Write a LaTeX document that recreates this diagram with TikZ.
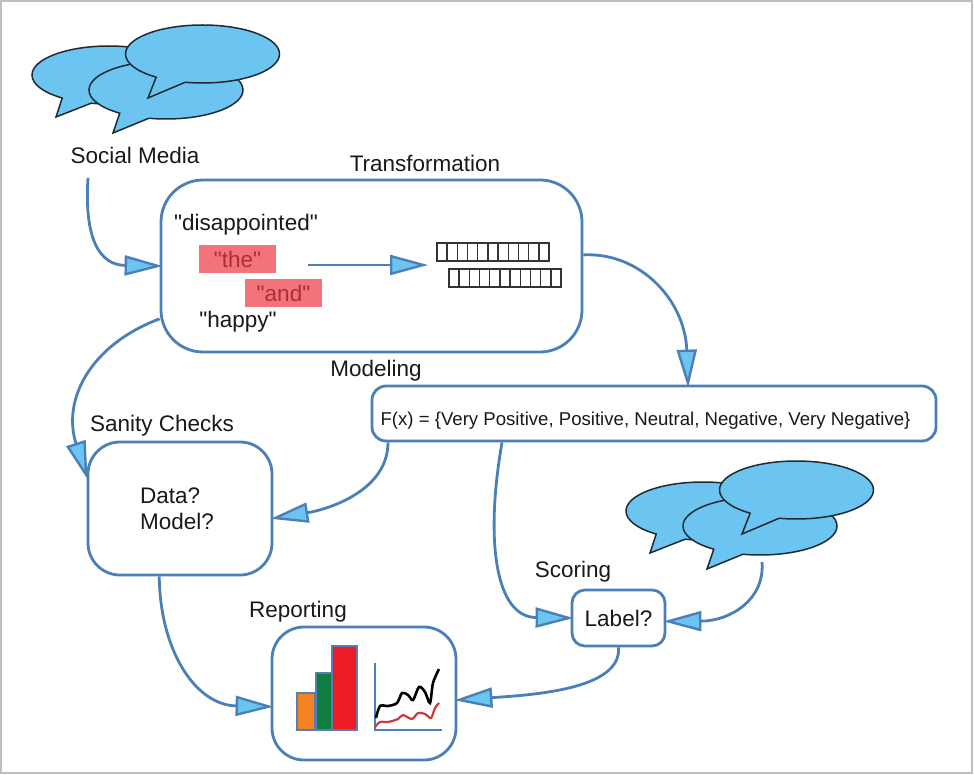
\documentclass[tikz,border=0pt]{standalone}
\usepackage{fontspec}
\setmainfont{Liberation Sans}[Ligatures=TeXOff]
\usetikzlibrary{arrows.meta,shapes.callouts}
\definecolor{linkblue}{HTML}{4A7FB8}
\definecolor{tipblue}{HTML}{6CC5F0}
\definecolor{wordred}{HTML}{F4727A}
\definecolor{wordink}{HTML}{A8323C}
\definecolor{inkdark}{HTML}{1F2A33}
\definecolor{barblue}{HTML}{5A7DAE}
\definecolor{lowline}{HTML}{CC3B3B}
\begin{document}
\begin{tikzpicture}[x=1pt,y=-1pt,
    every node/.style={font=\fontsize{22.5}{26}\selectfont,text=black!90},
    box/.style={draw=linkblue,line width=2.8pt,fill=white,inner sep=0pt},
    bubble/.style={ellipse callout,draw=inkdark,fill=tipblue,line width=1.5pt,minimum width=154pt,minimum height=58pt,inner sep=0pt,callout pointer arc=24},
    word/.style={fill=wordred,minimum width=77pt,minimum height=28pt,inner sep=0pt,text=wordink},
    cell/.style={draw=black!80,line width=1.3pt,minimum width=10.2pt,minimum height=18pt,inner sep=0pt},
    bar/.style={draw=barblue,line width=2.4pt},
    flow/.style={draw=linkblue,line width=2.8pt,shorten >=-3pt,-{Triangle[length=38pt,width=20pt,line width=2.4pt,fill=tipblue]}}]
    \useasboundingbox (0,0) rectangle (974,775);
    \draw[black!25,line width=1.5pt] (1,1) rectangle (972,773);
    % speech bubbles
    \foreach \dx/\dy/\nm in {0/0/post,594/436/fresh} {
        \node[bubble,callout absolute pointer={(56+\dx,117+\dy)}] (\nm a) at (109+\dx,75+\dy) {};
        \node[bubble,callout absolute pointer={(113+\dx,133+\dy)}] (\nm b) at (166+\dx,90+\dy) {};
        \node[bubble,callout absolute pointer={(148+\dx,98+\dy)}] (\nm c) at (202.5+\dx,54+\dy) {};
    }
    \node (social) at (135,155) {Social Media};
    % boxes
    \node[box,rounded corners=42pt,minimum width=421pt,minimum height=172pt] (trans) at (371.5,266) {};
    \node[box,rounded corners=14pt,minimum width=564pt,minimum height=55pt] (model) at (654,413.5) {};
    \node[box,rounded corners=32pt,minimum width=184pt,minimum height=133pt] (sanity) at (180,508.5) {};
    \node[box,rounded corners=32pt,minimum width=184pt,minimum height=133pt] (report) at (364,693.5) {};
    \node[box,rounded corners=13pt,minimum width=93pt,minimum height=56pt] (label) at (618.5,618) {Label?};
    \node[font=\fontsize{18.6}{22}\selectfont] (ftext) at (645.5,420.5) {F(x) = \{Very Positive, Positive, Neutral, Negative, Very Negative\}};
    \node[align=left] (stext) at (177,508.5) {Data?\\Model?};
    % titles
    \node (ttrans) at (425,163) {Transformation};
    \node (tmodel) at (376,370.5) {Modeling};
    \node (tsanity) at (162,425.5) {Sanity Checks};
    \node (treport) at (298,611.5) {Reporting};
    \node (tscore) at (573,571.5) {Scoring};
    % words
    \node (w1) at (246,224.5) {"disappointed"};
    \node[word] (w2) at (237.5,259) {"the"};
    \node[word] (w3) at (283.5,293) {"and"};
    \node (w4) at (238,321.5) {"happy"};
    % vectors
    \foreach \i in {0,...,10} {
        \node[cell] (ca\i) at ({442+\i*10.2},252) {};
        \node[cell] (cb\i) at ({454+\i*10.2},278) {};
    }
    \coordinate (wout) at (308,265);
    \coordinate (vin) at (425,265);
    \coordinate (social1) at (88,178);
    \coordinate (fresh1) at (762,562);
    % connectors
    \draw[flow] (social1) .. controls (84,240) and (100,265) .. (trans.west);
    \draw[flow] (wout) -- (vin);
    \draw[flow] (trans.3.8) .. controls (640,252) and (685,300) .. (688,0 |- model.north);
    \draw[flow] (trans.194) .. controls (90,345) and (62,400) .. (sanity.161.7);
    \draw[flow] (388,0 |- model.south) .. controls (388,490) and (330,509) .. (sanity.-6.5);
    \draw[flow] (502,0 |- model.south) .. controls (485,540) and (495,617) .. (label.west);
    \draw[flow] (fresh1) .. controls (765,600) and (730,621) .. (label.-4);
    \draw[flow] (label.south) .. controls (622,690) and (530,695) .. (report.-4);
    \draw[flow] (sanity.253.3) .. controls (160,650) and (195,705) .. (report.188.6);
    % chart
    \draw[bar,fill={rgb,255:red,245;green,130;blue,32}] (297,693) rectangle (315,730);
    \draw[bar,fill={rgb,255:red,15;green,125;blue,65}] (316,673) rectangle (332,730);
    \draw[bar,fill={rgb,255:red,237;green,28;blue,36}] (332,646) rectangle (357,730);
    \draw[linkblue,line width=2.4pt] (375,663) -- (375,730) -- (442,730);
    \draw[black,line width=2.6pt] plot[smooth] coordinates {(376,718) (380,706) (388,706) (397,703) (402,693) (408,695) (413,700) (419,687) (425,692) (430,703) (433,683) (439,669)};
    \draw[lowline,line width=2.2pt] plot[smooth] coordinates {(375,727) (380,722) (388,722) (398,719) (403,715) (412,719) (418,713) (425,714) (431,718) (435,708) (439,703)};
\end{tikzpicture}
\end{document}
